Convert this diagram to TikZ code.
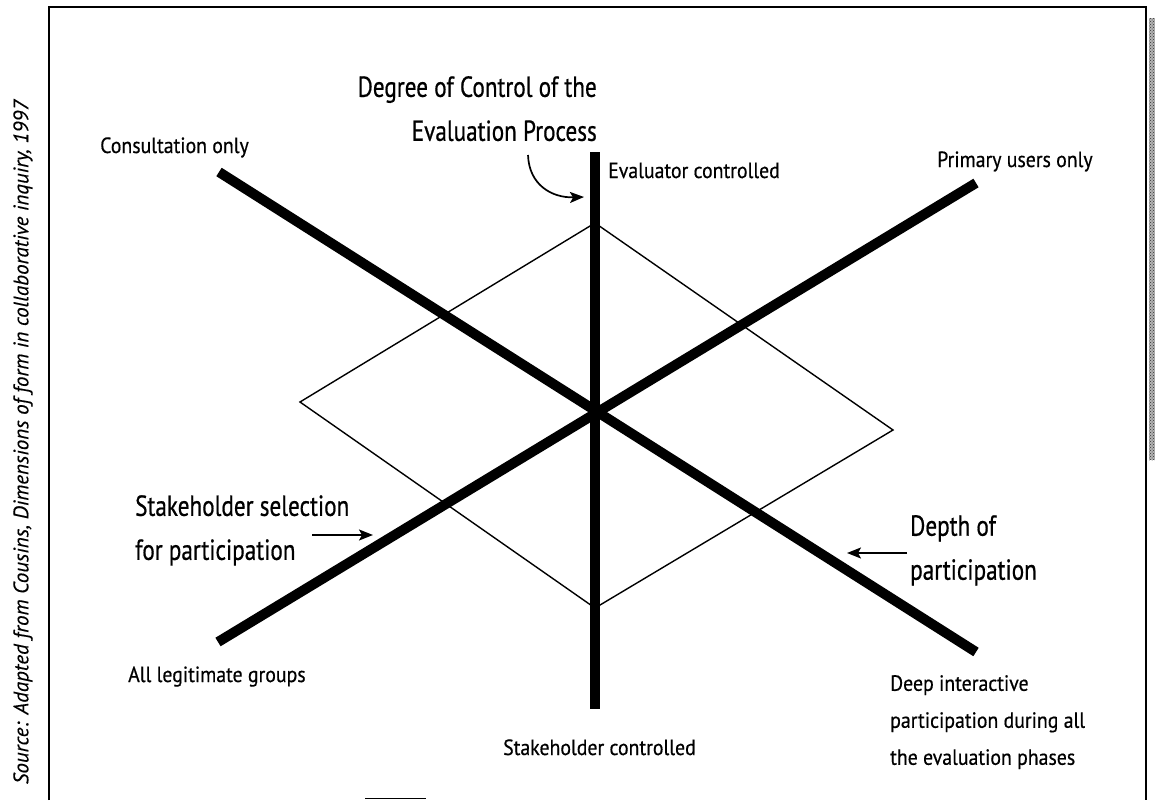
\documentclass[tikz,border=0pt]{standalone}
\usepackage{fontspec}
\setmainfont[FakeStretch=0.9, FakeBold=0.5]{PT Sans}
\newfontfamily\headfont[FakeStretch=0.8, FakeBold=0.6]{PT Sans}
\newfontfamily\srcfont[FakeBold=0.3]{PT Sans}
\usepackage{tikz}
\usetikzlibrary{arrows.meta, patterns}

\begin{document}
\begin{tikzpicture}[
  x=1pt, y=-1pt,
  axis/.style={line width=10pt},
  frame/.style={line width=1.3pt},
  rim/.style={line width=1.4pt, line join=miter},
  lbl/.style={inner sep=0pt, font=\fontsize{22}{37}\selectfont, align=left},
  head/.style={inner sep=0pt, font=\headfont\fontsize{29}{44}\selectfont, align=left},
  pointer/.style={-{Stealth[length=14pt, width=11pt, inset=3pt]}, line width=1.7pt},
]
  \useasboundingbox (0,0) rectangle (1155,800);

  % Frame and scan edge
  \draw[frame] (49,800) -- (49,7) -- (1146,7) -- (1146,800);
  \fill[black!30] (1149,18) rectangle (1155,460);
  \fill[pattern=crosshatch dots, pattern color=black!80] (1149,18) rectangle (1155,460);
  \draw[line width=1pt] (365,798) -- (426,798);

  % Axis end points
  \coordinate (top) at (595,152);
  \coordinate (bot) at (595,709);
  \coordinate (ul) at (219,172);
  \coordinate (lr) at (976,652);
  \coordinate (ll) at (218,642);
  \coordinate (ur) at (976,183);

  % Diamond
  \coordinate (dn) at (595,223);
  \coordinate (de) at (893,430);
  \coordinate (ds) at (595,608);
  \coordinate (dw) at (300,402);
  \draw[rim] (dn) -- (de) -- (ds) -- (dw) -- cycle;

  % Axes
  \draw[axis] (top) -- (bot);
  \draw[axis] (ul) -- (lr);
  \draw[axis] (ll) -- (ur);

  % Axis labels
  \node[lbl, anchor=base west] (consult) at (100,153) {Consultation only};
  \node[lbl, anchor=base west] (evalctl) at (608,178) {Evaluator controlled};
  \node[lbl, anchor=base west] (primary) at (937,167) {Primary users only};
  \node[lbl, anchor=base west] (allgrp) at (128,682) {All legitimate groups};
  \node[lbl, anchor=base west] (stakectl) at (503,755) {Stakeholder controlled};
  \node[lbl, anchor=north west] (deep) at (890,675)
    {Deep interactive\\participation during all\\the evaluation phases};

  % Dimension titles
  \node[head, anchor=north east, align=right] (degree) at (597,76)
    {Degree of Control of the\\Evaluation Process};
  \node[head, anchor=north west] (select) at (135,495)
    {Stakeholder selection\\for participation};
  \node[head, anchor=north west] (depth) at (910,515)
    {Depth of\\participation};

  % Pointers
  \coordinate (c1) at (528,155);
  \coordinate (c2) at (584,197);
  \draw[pointer] (c1) .. controls (529,185) and (552,198) .. (c2);
  \coordinate (s1) at (312,535);
  \coordinate (s2) at (373,535);
  \draw[pointer] (s1) -- (s2);
  \coordinate (p1) at (907,553);
  \coordinate (p2) at (847,553);
  \draw[pointer] (p1) -- (p2);

  % Source
  \node[inner sep=0pt, rotate=90, font=\srcfont\itshape\fontsize{21}{21}\selectfont] (src) at (23,442)
    {Source: Adapted from Cousins, Dimensions of form in collaborative inquiry, 1997};
\end{tikzpicture}
\end{document}
